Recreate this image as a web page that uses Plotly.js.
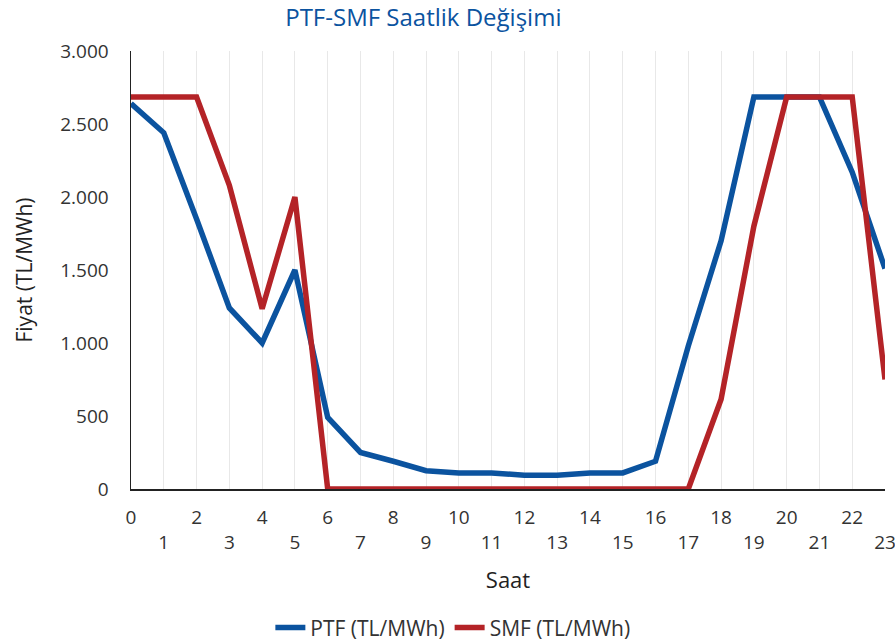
<!DOCTYPE html>
<html>
<head>
<meta charset="utf-8">
<script src="https://cdn.plot.ly/plotly-3.0.1.min.js"></script>
<style>html,body{margin:0;padding:0;background:#fff;}#chart{width:895px;height:642px;}</style>
</head>
<body>
<div id="chart"></div>
<script>
const hours = [0,1,2,3,4,5,6,7,8,9,10,11,12,13,14,15,16,17,18,19,20,21,22,23];
const ptf = [2640,2440,1850,1240,1000,1500,490,250,190,125,110,110,95,95,110,110,190,980,1700,2685,2685,2685,2170,1510];
const smf = [2685,2685,2685,2080,1235,2000,0,0,0,0,0,0,0,0,0,0,0,0,615,1800,2685,2685,2685,750];
const yTicks = [0,500,1000,1500,2000,2500,3000];
const yTickText = ['0','500','1.000','1.500','2.000','2.500','3.000'];
const xTickText = hours.map(h => h % 2 === 0 ? String(h) : '<br>' + h);

const font = 'Open Sans, Noto Sans, sans-serif';
const traces = [
  {x: hours, y: ptf, name: 'PTF (TL/MWh)', type: 'scatter', mode: 'lines',
   line: {color: '#0b539f', width: 5.5}},
  {x: hours, y: smf, name: 'SMF (TL/MWh)', type: 'scatter', mode: 'lines',
   line: {color: '#b42327', width: 5.5}}
];
const layout = {
  width: 895, height: 642,
  margin: {l: 131, r: 10, t: 51, b: 153},
  paper_bgcolor: '#fff', plot_bgcolor: '#fff',
  font: {family: font, color: '#333', size: 19},
  title: {text: 'PTF-SMF Saatlik Değişimi', font: {family: font, size: 24, color: '#0b539f'},
          x: 0.473, xref: 'container', xanchor: 'center', y: 0.972, yref: 'container', yanchor: 'middle'},
  xaxis: {
    range: [0, 23], tickmode: 'array', tickvals: hours, ticktext: xTickText, tickangle: 0,
    showgrid: true, gridcolor: '#e8e8e8', gridwidth: 1,
    showline: true, linecolor: '#222', linewidth: 1.5, zeroline: false,
    ticks: '', ticklabelstandoff: 11, ticklabeloverflow: 'allow',
    title: {text: 'Saat', font: {size: 22, color: '#222'}, standoff: 18}
  },
  yaxis: {
    range: [0, 3000], tickmode: 'array', tickvals: yTicks, ticktext: yTickText,
    showgrid: false, showline: true, linecolor: '#222', linewidth: 1.5, zeroline: false,
    ticks: '', ticklabelstandoff: 17,
    title: {text: 'Fiyat (TL/MWh)', font: {size: 21, color: '#222'}, standoff: 22}
  },
  showlegend: true,
  legend: {orientation: 'h', x: 0.506, xref: 'container', xanchor: 'center',
           y: 0.022, yref: 'container', yanchor: 'middle', font: {size: 21, color: '#333'}}
};
Plotly.newPlot('chart', traces, layout, {displayModeBar: false, staticPlot: true});
</script>
</body>
</html>
